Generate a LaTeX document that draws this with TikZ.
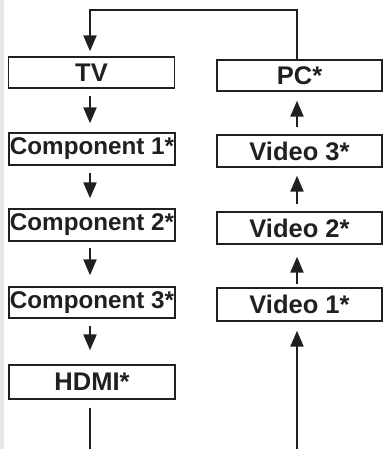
\documentclass[tikz,border=0pt]{standalone}
\usepackage{fontspec}
\setmainfont{Liberation Sans}
\usetikzlibrary{arrows.meta}
\definecolor{stripgray}{RGB}{230,231,234}
\definecolor{ink}{RGB}{35,31,32}
\tikzset{
  srcbox/.style={draw=ink, line width=1.4pt, fill=white, inner sep=0pt,
    font=\bfseries\fontsize{25.5}{28}\selectfont, text=ink},
  lbox/.style={srcbox, minimum width=166pt, minimum height=32pt},
  rbox/.style={srcbox, minimum width=165pt, minimum height=32pt},
  compfont/.style={font=\bfseries\fontsize{24.2}{27}\selectfont},
  flow/.style={draw=ink, line width=2.2pt, -{Triangle[length=16pt,width=13pt]}},
  plain/.style={draw=ink, line width=2.2pt}
}
\begin{document}
\begin{tikzpicture}[x=1pt, y=-1pt]
\useasboundingbox (0,0) rectangle (383,449);
\fill[stripgray] (0,0) rectangle (4,449);
% left column
\node[lbox, minimum height=31pt] (tv) at (91.5,72.5) {TV};
\node[lbox, compfont] (c1) at (92,149) {Component 1*};
\node[lbox, compfont] (c2) at (92,225) {Component 2*};
\node[lbox, compfont, minimum height=31pt] (c3) at (92,302.5) {Component 3*};
\node[lbox, minimum height=34pt] (hdmi) at (92,382) {HDMI*};
% right column
\node[rbox, minimum height=31pt] (pc) at (299.5,75.5) {PC*};
\node[rbox] (v3) at (299.5,151) {Video 3*};
\node[rbox] (v2) at (299.5,228) {Video 2*};
\node[rbox, minimum height=33pt] (v1) at (299.5,304.5) {Video 1*};
% free ends at the bottom
\coordinate (hdmiout) at (90,449);
\coordinate (v1in) at (297,449);
% left arrows
\draw[flow, shorten <=7pt, shorten >=9pt] ([xshift=-1.5pt]tv.south) -- ([xshift=-2pt]c1.north);
\draw[flow, shorten <=7pt, shorten >=10pt] ([xshift=-2pt]c1.south) -- ([xshift=-2pt]c2.north);
\draw[flow, shorten <=6pt, shorten >=11pt] ([xshift=-2pt]c2.south) -- ([xshift=-2pt]c3.north);
\draw[flow, shorten <=7pt, shorten >=14pt] ([xshift=-2pt]c3.south) -- ([xshift=-2pt]hdmi.north);
\draw[plain, shorten <=8pt] ([xshift=-2pt]hdmi.south) -- (hdmiout);
% right arrows
\draw[flow, shorten <=7pt, shorten >=9pt] ([xshift=-2.5pt]v3.north) -- ([xshift=-2.5pt]pc.south);
\draw[flow, shorten <=7pt, shorten >=8pt] ([xshift=-2.5pt]v2.north) -- ([xshift=-2.5pt]v3.south);
\draw[flow, shorten <=3pt, shorten >=12pt] ([xshift=-2.5pt]v1.north) -- ([xshift=-2.5pt]v2.south);
\draw[flow, shorten >=9pt] (v1in) -- ([xshift=-2.5pt]v1.south);
% loop from PC back to TV
\draw[flow, shorten >=5pt] ([xshift=-2.5pt]pc.north) |- (90,10) -- ([xshift=-1.5pt]tv.north);
\end{tikzpicture}
\end{document}
